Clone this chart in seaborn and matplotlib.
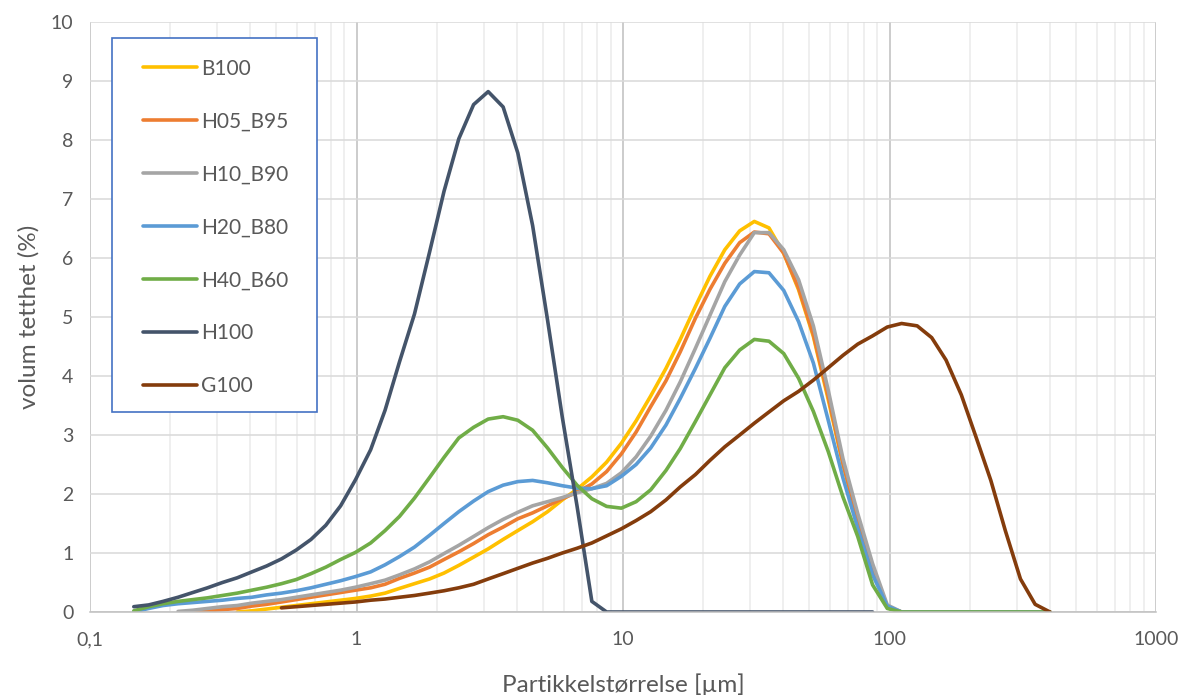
import numpy as np
import pandas as pd
import seaborn as sns
import matplotlib.pyplot as plt
from matplotlib.patches import Rectangle
from matplotlib.ticker import FixedLocator, FixedFormatter, LogLocator, NullFormatter

# particle size bins (µm)
sizes = [0.146, 0.166, 0.188, 0.214, 0.243, 0.276, 0.314, 0.357, 0.405, 0.460,
         0.523, 0.594, 0.675, 0.767, 0.872, 0.991, 1.13, 1.28, 1.45, 1.65,
         1.88, 2.13, 2.42, 2.75, 3.12, 3.55, 4.03, 4.58, 5.21, 5.92,
         6.72, 7.64, 8.68, 9.86, 11.2, 12.7, 14.5, 16.4, 18.7, 21.2,
         24.1, 27.4, 31.1, 35.3, 40.1, 45.6, 51.8, 58.9, 66.9, 76.0,
         86.4, 98.1, 111, 127, 144, 163, 186, 211, 240, 272,
         310, 352, 400]

# volume density (%) per sample, first value at index given in series_start
b100 = [0.0, 0.02, 0.05, 0.08, 0.11, 0.14, 0.17, 0.20, 0.23, 0.27,
        0.32, 0.40, 0.48, 0.56, 0.66, 0.79, 0.93, 1.07, 1.23, 1.38,
        1.53, 1.70, 1.90, 2.08, 2.29, 2.54, 2.86, 3.24, 3.66, 4.13,
        4.62, 5.18, 5.69, 6.14, 6.46, 6.62, 6.51, 6.08, 5.46, 4.67,
        3.60, 2.50, 1.55, 0.72, 0.08] + [0.0] * 11
h05_b95 = [0.0, 0.02, 0.04, 0.06, 0.10, 0.13, 0.17, 0.21, 0.25, 0.29,
           0.33, 0.37, 0.41, 0.47, 0.57, 0.66, 0.76, 0.89, 1.02, 1.16,
           1.31, 1.44, 1.58, 1.68, 1.80, 1.92, 2.03, 2.17, 2.38, 2.68,
           3.05, 3.48, 3.92, 4.41, 4.98, 5.47, 5.91, 6.26, 6.44, 6.41,
           6.08, 5.49, 4.70, 3.65, 2.52, 1.56, 0.74, 0.09] + [0.0] * 11
h10_b90 = [0.01, 0.03, 0.06, 0.09, 0.11, 0.15, 0.18, 0.21, 0.25, 0.29,
           0.33, 0.37, 0.42, 0.48, 0.54, 0.63, 0.73, 0.85, 0.99, 1.13,
           1.28, 1.43, 1.57, 1.69, 1.80, 1.87, 1.94, 2.02, 2.09, 2.18,
           2.36, 2.63, 2.98, 3.42, 3.90, 4.47, 5.03, 5.60, 6.05, 6.43,
           6.43, 6.14, 5.63, 4.85, 3.76, 2.60, 1.67, 0.82, 0.12] + [0.0] * 11
h20_b80 = [0.0, 0.06, 0.11, 0.14, 0.16, 0.18, 0.20, 0.23, 0.25, 0.29,
           0.32, 0.36, 0.41, 0.47, 0.53, 0.60, 0.68, 0.80, 0.94, 1.10,
           1.30, 1.50, 1.70, 1.88, 2.04, 2.15, 2.21, 2.23, 2.19, 2.14,
           2.10, 2.09, 2.14, 2.30, 2.50, 2.78, 3.17, 3.62, 4.13, 4.64,
           5.18, 5.56, 5.77, 5.75, 5.45, 4.92, 4.22, 3.25, 2.27, 1.42,
           0.63, 0.10] + [0.0] * 11
h40_b60 = [0.02, 0.09, 0.14, 0.18, 0.21, 0.24, 0.28, 0.32, 0.37, 0.42,
           0.48, 0.55, 0.65, 0.76, 0.89, 1.01, 1.17, 1.38, 1.62, 1.93,
           2.28, 2.62, 2.95, 3.13, 3.27, 3.31, 3.25, 3.08, 2.78, 2.45,
           2.15, 1.92, 1.79, 1.76, 1.87, 2.07, 2.40, 2.77, 3.23, 3.68,
           4.14, 4.44, 4.62, 4.59, 4.38, 3.96, 3.40, 2.72, 1.95, 1.28,
           0.46, 0.06] + [0.0] * 11
h100 = [0.09, 0.12, 0.18, 0.25, 0.33, 0.41, 0.50, 0.58, 0.68, 0.78,
        0.90, 1.05, 1.23, 1.47, 1.80, 2.24, 2.75, 3.42, 4.24, 5.05,
        6.10, 7.13, 8.02, 8.60, 8.82, 8.56, 7.78, 6.55, 4.95, 3.30,
        1.80, 0.18] + [0.0] * 19
g100 = [0.07, 0.09, 0.11, 0.13, 0.15, 0.17, 0.20, 0.22, 0.25, 0.28,
        0.32, 0.36, 0.41, 0.47, 0.56, 0.65, 0.74, 0.83, 0.91, 1.00,
        1.08, 1.17, 1.29, 1.41, 1.55, 1.70, 1.90, 2.12, 2.33, 2.57,
        2.80, 3.00, 3.20, 3.39, 3.58, 3.74, 3.93, 4.14, 4.35, 4.54,
        4.68, 4.83, 4.89, 4.85, 4.65, 4.27, 3.68, 2.97, 2.23, 1.38,
        0.56, 0.13, 0.0]

series = {'B100': b100, 'H05_B95': h05_b95, 'H10_B90': h10_b90,
          'H20_B80': h20_b80, 'H40_B60': h40_b60, 'H100': h100, 'G100': g100}
series_start = {'B100': 7, 'H05_B95': 4, 'H10_B90': 3, 'H20_B80': 0,
                'H40_B60': 0, 'H100': 0, 'G100': 10}
colors = {'B100': '#FFC000', 'H05_B95': '#ED7D31', 'H10_B90': '#A5A5A5',
          'H20_B80': '#5B9BD5', 'H40_B60': '#70AD47', 'H100': '#44546A',
          'G100': '#843C0C'}

rows = []
for name, vals in series.items():
    s0 = series_start[name]
    for i, v in enumerate(vals):
        rows.append({'size': sizes[s0 + i], 'density': v, 'sample': name})
df = pd.DataFrame(rows)

sns.set_style('white')
plt.rcParams['font.family'] = ['Lato', 'DejaVu Sans']

fig = plt.figure(figsize=(11.86, 6.95), dpi=100)
ax = fig.add_axes([90 / 1186, 83 / 695, 1066 / 1186, 590 / 695])

sns.lineplot(data=df, x='size', y='density', hue='sample', palette=colors,
             hue_order=list(series.keys()), estimator=None, sort=False,
             linewidth=2.6, ax=ax, legend=False)

ax.set_xscale('log')
ax.set_xlim(0.1, 1000)
ax.set_ylim(0, 10)

ax.xaxis.set_major_locator(FixedLocator([0.1, 1, 10, 100, 1000]))
ax.xaxis.set_major_formatter(FixedFormatter(['0,1', '1', '10', '100', '1000']))
ax.xaxis.set_minor_locator(LogLocator(base=10, subs=np.arange(2, 10)))
ax.xaxis.set_minor_formatter(NullFormatter())
ax.set_yticks(range(0, 11))

ax.grid(which='major', axis='x', color='#BFBFBF', linewidth=1.1)
ax.grid(which='minor', axis='x', color='#EBEBEB', linewidth=1.1)
ax.grid(which='major', axis='y', color='#D9D9D9', linewidth=1.1)
ax.set_axisbelow(True)

for side in ['top', 'right', 'left']:
    ax.spines[side].set_visible(False)
ax.spines['bottom'].set_color('#BFBFBF')
ax.spines['bottom'].set_linewidth(1.1)

ax.tick_params(axis='both', which='both', length=0, labelsize=14,
               labelcolor='#595959')
ax.tick_params(axis='x', pad=14)
ax.tick_params(axis='y', pad=12)

ax.set_xlabel('Partikkelstørrelse [µm]', fontsize=17.5, color='#595959', labelpad=18)
ax.set_ylabel('volum tetthet (%)', fontsize=17.5, color='#595959', labelpad=8)

# legend box
frame = Rectangle(((112 - 90) / 1066, (612 - 412) / 590), 205 / 1066, 374 / 590,
                  transform=ax.transAxes, facecolor='white', edgecolor='#4472C4',
                  linewidth=1.2, zorder=5)
ax.add_patch(frame)

handles = [plt.Line2D([], [], color=colors[n], linewidth=2.6) for n in series]
leg = ax.legend(handles, list(series.keys()), loc='upper left',
                bbox_to_anchor=((126 - 90) / 1066, (612 - 42) / 590),
                frameon=False, fontsize=15, labelspacing=1.58,
                handlelength=2.6, handletextpad=0.2, borderpad=0.3)
leg.set_zorder(6)
for t in leg.get_texts():
    t.set_color('#595959')

fig.savefig('out.png', dpi=100)
